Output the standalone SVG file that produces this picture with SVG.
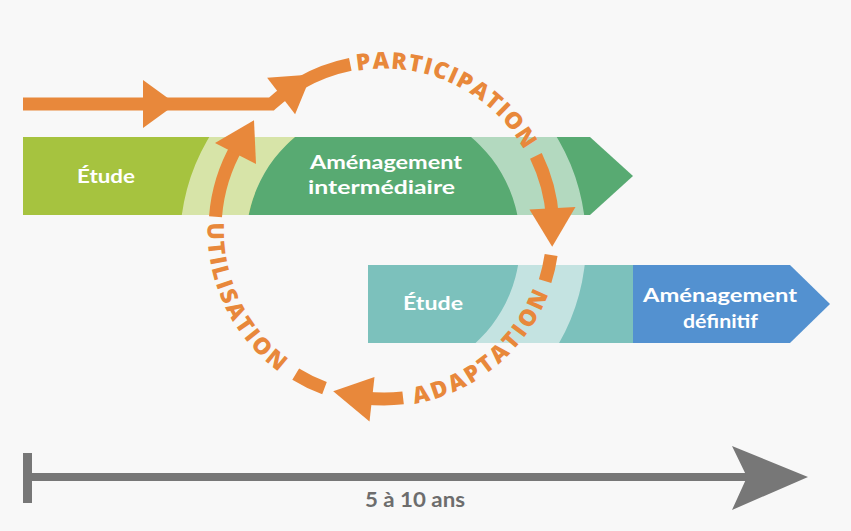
<svg xmlns="http://www.w3.org/2000/svg" width="851" height="531" viewBox="0 0 851 531">
<style>
.lbl{font-family:Lato,"Liberation Sans",sans-serif;font-weight:700;fill:#ffffff;font-size:19px}
.ring{font-family:"Open Sans","Liberation Sans",sans-serif;font-weight:800;fill:#e8883b;font-size:23px}
.orn{fill:none;stroke:#e8883b;stroke-width:13;stroke-linecap:butt}
.ornf{fill:#e8883b}
.axis{font-family:Lato,"Liberation Sans",sans-serif;font-weight:700;fill:#6d6d6d;font-size:20px}
</style>
<defs>
<clipPath id="bars">
<polygon points="23,137 590,137 633,176 590,215 23,215"/>
<polygon points="368,265 790,265 830,304 790,343 368,343"/>
</clipPath>
<path id="pPart" d="M357.1,70.8 A161.5,161.5 0 0 1 535.8,174.8"/>
<path id="pAdapt" d="M414.6,403.8 A176.5,176.5 0 0 0 557.8,260.6"/>
<path id="pUtil" d="M207.7,222.6 A176.5,176.5 0 0 0 309.4,390"/>
</defs>
<rect x="0" y="0" width="851" height="531" fill="#f8f8f8"/>

<g id="bar-amenagement-intermediaire">
<polygon points="23,137 590,137 633,176 590,215 23,215" fill="#58aa72"/>
</g>
<g id="bar-etude-1">
<path d="M23,137 H295 A137,137 0 0 0 248.7,215 H23 Z" fill="#a6c33f"/>
</g>
<g id="bar-etude-2">
<rect x="368" y="265" width="265" height="78" fill="#7cc1bc"/>
</g>
<g id="bar-amenagement-definitif">
<path d="M633,265 H790 L830,304 L790,343 H633 Z" fill="#5391d0"/>
</g>
<g id="band" clip-path="url(#bars)">
<path d="M383,39 A203,203 0 1 1 382.99,39 Z M383,105 A137,137 0 1 0 383.01,105 Z" fill="#ffffff" fill-opacity="0.55" fill-rule="evenodd"/>
</g>
<g id="bar-labels">
<text class="lbl" x="77" y="183" textLength="58" lengthAdjust="spacingAndGlyphs">Étude</text>
<text class="lbl" x="310" y="169" textLength="152" lengthAdjust="spacingAndGlyphs">Aménagement</text>
<text class="lbl" x="308" y="194" textLength="147" lengthAdjust="spacingAndGlyphs">intermédiaire</text>
<text class="lbl" x="403" y="310" textLength="60" lengthAdjust="spacingAndGlyphs">Étude</text>
<text class="lbl" x="643" y="302" textLength="154" lengthAdjust="spacingAndGlyphs">Aménagement</text>
<text class="lbl" x="683" y="328" textLength="75" lengthAdjust="spacingAndGlyphs">définitif</text>
</g>

<g id="connectors">
<path class="orn" d="M23,104 H271.4 A169,169 0 0 1 289.5,89.9"/>
<polygon class="ornf" points="143,80 176,104 143,128"/>
<polygon class="ornf" points="267.1,77.7 295.1,114.2 311.5,74.5"/>
<path class="orn" d="M299.5,83.6 A169,169 0 0 1 350.3,64.4"/>
<path class="orn" d="M535.9,155.9 A169,169 0 0 1 552.6,218.2"/>
<polygon class="ornf" points="529.5,209.5 575.5,207 552.2,246.8"/>
<path class="orn" d="M551.1,255 A169,169 0 0 1 545.1,281.1"/>
<path class="orn" d="M403.1,397.9 A169,169 0 0 1 363.4,397.7"/>
<polygon class="ornf" points="374.5,377 369.5,421.5 333.2,391.2"/>
<path class="orn" d="M324.5,388.2 A169,169 0 0 1 295.7,374.1"/>
<path class="orn" d="M215.5,216.7 A169,169 0 0 1 237.6,145.5"/>
<polygon class="ornf" points="256,164 215,143 254,120.3"/>
</g>

<g id="ring-labels">
<text class="ring"><textPath href="#pPart" textLength="197" lengthAdjust="spacing">PARTICIPATION</textPath></text>
<text class="ring"><textPath href="#pAdapt" textLength="181" lengthAdjust="spacing">ADAPTATION</textPath></text>
<text class="ring"><textPath href="#pUtil" textLength="172" lengthAdjust="spacing">UTILISATION</textPath></text>
</g>

<g id="timeline">
<line x1="27" y1="477" x2="752" y2="477" stroke="#777777" stroke-width="8"/>
<rect x="23" y="453" width="9" height="50" fill="#777777"/>
<polygon points="732,446 808,477 732,510 747,477" fill="#777777"/>
<text class="axis" x="365" y="507" textLength="100" lengthAdjust="spacingAndGlyphs">5 à 10 ans</text>
</g>
</svg>
